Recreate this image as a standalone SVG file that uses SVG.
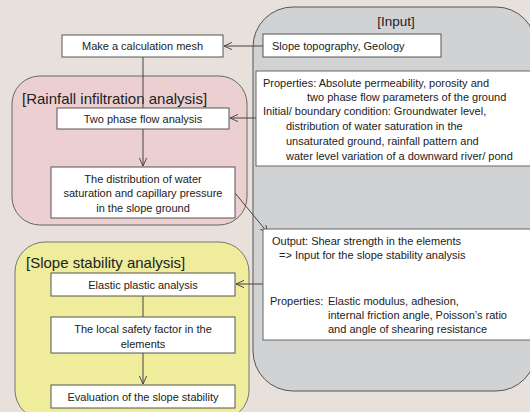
<svg xmlns="http://www.w3.org/2000/svg" width="530" height="412" viewBox="0 0 530 412">
<defs>
<marker id="arr" viewBox="0 0 10 10" refX="10" refY="5" markerWidth="8" markerHeight="8" markerUnits="userSpaceOnUse" orient="auto">
<path d="M0,0.5 L10,5 L0,9.5" fill="none" stroke="#444" stroke-width="1.2"/>
</marker>
<style>
text{font-family:"Liberation Sans",Arial,"Noto Sans CJK JP",sans-serif;font-size:11px;fill:#222}
.c{text-anchor:middle}
.h{font-size:15px}
.box{fill:#fff;stroke:#555;stroke-width:1}
.pan{fill:#fff;stroke:#666;stroke-width:1}
.con{fill:none;stroke:#444;stroke-width:1}
</style>
</defs>
<rect width="530" height="412" fill="#e8e0da"/>

<g id="input-group">
<rect x="253" y="7" width="283" height="384" rx="40" fill="#d1d2d4" stroke="#555" stroke-width="1"/>
<text x="396" y="26" class="c" style="font-size:13.5px">[Input]</text>
</g>
<g id="rainfall-group">
<rect x="12" y="76" width="235" height="149" rx="28" fill="#ecd0d1" stroke="#666" stroke-width="1"/>
<text x="22" y="104" class="h">[Rainfall infiltration  analysis]</text>
</g>
<g id="slope-group">
<rect x="15" y="242" width="234" height="178" rx="30" fill="#efec9b" stroke="#777" stroke-width="1"/>
<text x="26" y="268" class="h">[Slope stability  analysis]</text>
</g>

<g id="connectors">
<line class="con" x1="263" y1="46" x2="224" y2="46" marker-end="url(#arr)"/>
<line class="con" x1="143" y1="57" x2="143" y2="108"/>
<line class="con" x1="143" y1="129" x2="143" y2="166" marker-end="url(#arr)"/>
<line class="con" x1="256" y1="118" x2="230" y2="118" marker-end="url(#arr)"/>
<line class="con" x1="235" y1="193" x2="268" y2="233" marker-end="url(#arr)"/>
<line class="con" x1="263" y1="284" x2="236" y2="284" marker-end="url(#arr)"/>
<line class="con" x1="143" y1="296" x2="143" y2="317"/>
<line class="con" x1="143" y1="353" x2="143" y2="384" marker-end="url(#arr)"/>
</g>

<g id="slope-topography">
<rect class="box" x="263" y="34" width="178" height="23"/>
<text x="272" y="50">Slope topography, Geology</text>
</g>
<g id="properties-1">
<rect class="pan" x="256" y="71" width="290" height="95"/>
<text x="263" y="87">Properties: Absolute permeability, porosity and</text>
<text x="307" y="101">two phase flow parameters of the ground</text>
<text x="263" y="115">Initial/ boundary condition:  Groundwater level,</text>
<text x="286" y="130">distribution of water saturation in the</text>
<text x="286" y="145">unsaturated ground, rainfall pattern and</text>
<text x="286" y="160">water level variation of a downward river/ pond</text>
</g>
<g id="output-panel">
<rect class="pan" x="263" y="229" width="290" height="111"/>
<text x="272" y="245">Output: Shear strength in the elements</text>
<text x="279" y="259">=&gt; Input for the slope stability analysis</text>
<text x="270" y="305">Properties:</text>
<text x="328" y="305">Elastic modulus, adhesion,</text>
<text x="328" y="319">internal friction angle, Poisson’s ratio</text>
<text x="328" y="333">and angle of shearing resistance</text>
</g>
<g id="make-mesh">
<rect class="box" x="62" y="35" width="161" height="22"/>
<text x="142.5" y="50" class="c">Make a calculation mesh</text>
</g>
<g id="two-phase">
<rect class="box" x="57" y="108" width="172" height="21"/>
<text x="143" y="122.5" class="c">Two phase flow analysis</text>
</g>
<g id="distribution">
<rect class="box" x="51" y="167" width="184" height="51"/>
<text x="143" y="183" class="c">The distribution of water</text>
<text x="143" y="197" class="c">saturation and capillary pressure</text>
<text x="143" y="212" class="c">in the slope ground</text>
</g>
<g id="elastic-plastic">
<rect class="box" x="51" y="273" width="184" height="23"/>
<text x="143" y="289" class="c">Elastic plastic analysis</text>
</g>
<g id="local-safety">
<rect class="box" x="51" y="317" width="184" height="36"/>
<text x="143" y="333" class="c">The local safety factor in the</text>
<text x="143" y="348" class="c">elements</text>
</g>
<g id="evaluation">
<rect class="box" x="51" y="385" width="184" height="23"/>
<text x="143" y="401" class="c">Evaluation of the slope stability</text>
</g>
</svg>
